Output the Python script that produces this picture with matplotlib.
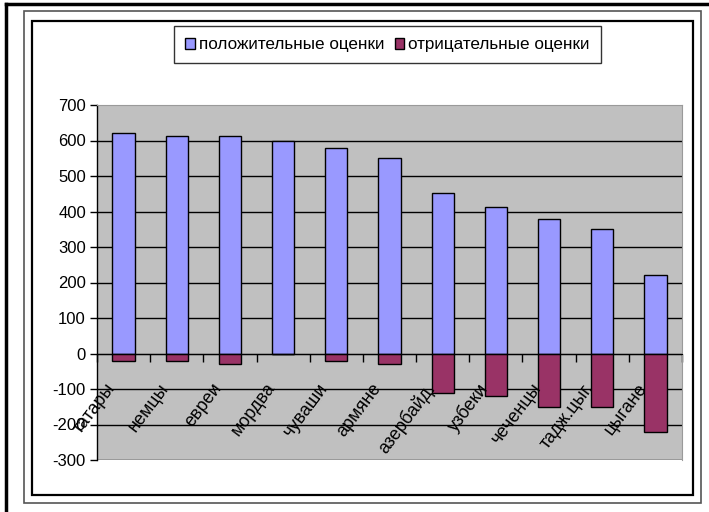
import matplotlib
matplotlib.use("Agg")
import matplotlib.pyplot as plt
from matplotlib.patches import Rectangle
from matplotlib.lines import Line2D

categories = ["татары", "немцы", "евреи", "мордва", "чуваши", "армяне",
              "азербайд.", "узбеки", "чеченцы", "тадж.цыг.", "цыгане"]
positive = [622, 613, 613, 600, 580, 550, 452, 413, 380, 350, 222]
negative = [-20, -20, -30, 0, -20, -30, -110, -120, -150, -150, -220]
yticks = [-300, -200, -100, 0, 100, 200, 300, 400, 500, 600, 700]

plt.rcParams['font.family'] = ['Liberation Sans', 'DejaVu Sans']

W, H = 709, 512
fig = plt.figure(figsize=(W / 100, H / 100), dpi=100)

def px_rect(x0, y0, x1, y1, color, lw):
    fig.patches.append(Rectangle((x0 / W, 1 - y1 / H), (x1 - x0) / W, (y1 - y0) / H,
                                 transform=fig.transFigure, fill=False,
                                 edgecolor=color, linewidth=lw, zorder=0))

# frames
fig.add_artist(Line2D([6 / W, 6 / W], [0, 1 - 4 / H], color='black', lw=2.5, transform=fig.transFigure))
fig.add_artist(Line2D([6 / W, 1], [1 - 4 / H, 1 - 4 / H], color='black', lw=2.5, transform=fig.transFigure))
px_rect(24, 11, 701, 503, '#555555', 1.2)
px_rect(32, 21, 693, 495, 'black', 1.6)

left, right, top, bottom = 97, 682, 105, 460
ax = fig.add_axes([left / W, 1 - bottom / H, (right - left) / W, (bottom - top) / H])
ax.set_facecolor('#C0C0C0')

x = list(range(len(categories)))
bw = 0.42
ax.bar(x, positive, width=bw, color='#9999FF', edgecolor='black', linewidth=1.0, zorder=3,
       label='положительные оценки')
ax.bar(x, negative, width=bw, color='#993366', edgecolor='black', linewidth=1.0, zorder=3,
       label='отрицательные оценки')

ax.set_xlim(-0.5, len(categories) - 0.5)
ax.set_ylim(-300, 700)
ax.set_yticks(yticks)
ax.set_yticklabels([str(v) for v in yticks], fontsize=12)
for v in yticks[:-1]:
    ax.axhline(v, color='black', lw=1.0, zorder=1)

for s in ['top', 'right']:
    ax.spines[s].set_color('#9a9a9a')
ax.spines['left'].set_color('black')
ax.spines['left'].set_linewidth(1.0)
ax.spines['bottom'].set_position(('data', 0))
ax.spines['bottom'].set_color('black')
ax.spines['bottom'].set_zorder(4)

ax.tick_params(axis='y', direction='out', length=5, width=1, pad=3, colors='black')
ax.set_xticks([i + 0.5 for i in range(-1, len(categories))], minor=True)
ax.set_xticks(x)
ax.set_xticklabels([])
ax.tick_params(axis='x', which='major', length=0)
ax.tick_params(axis='x', which='minor', direction='out', length=6, width=1)

for i, c in enumerate(categories):
    ax.annotate(c, xy=(i, 0), xytext=(-13, -19), textcoords='offset points',
                rotation=53, ha='right', va='top', fontsize=13,
                rotation_mode='anchor', zorder=5, annotation_clip=False)

leg = fig.legend(loc='upper left', bbox_to_anchor=(174 / W, 1 - 26 / H), ncol=2,
                 fontsize=12.3, frameon=True, fancybox=False, edgecolor='black',
                 handlelength=0.55, handleheight=0.6, handletextpad=0.25, columnspacing=0.6,
                 borderpad=0.65, borderaxespad=0)
leg.get_frame().set_linewidth(1.0)

fig.savefig('out.png', dpi=100)
